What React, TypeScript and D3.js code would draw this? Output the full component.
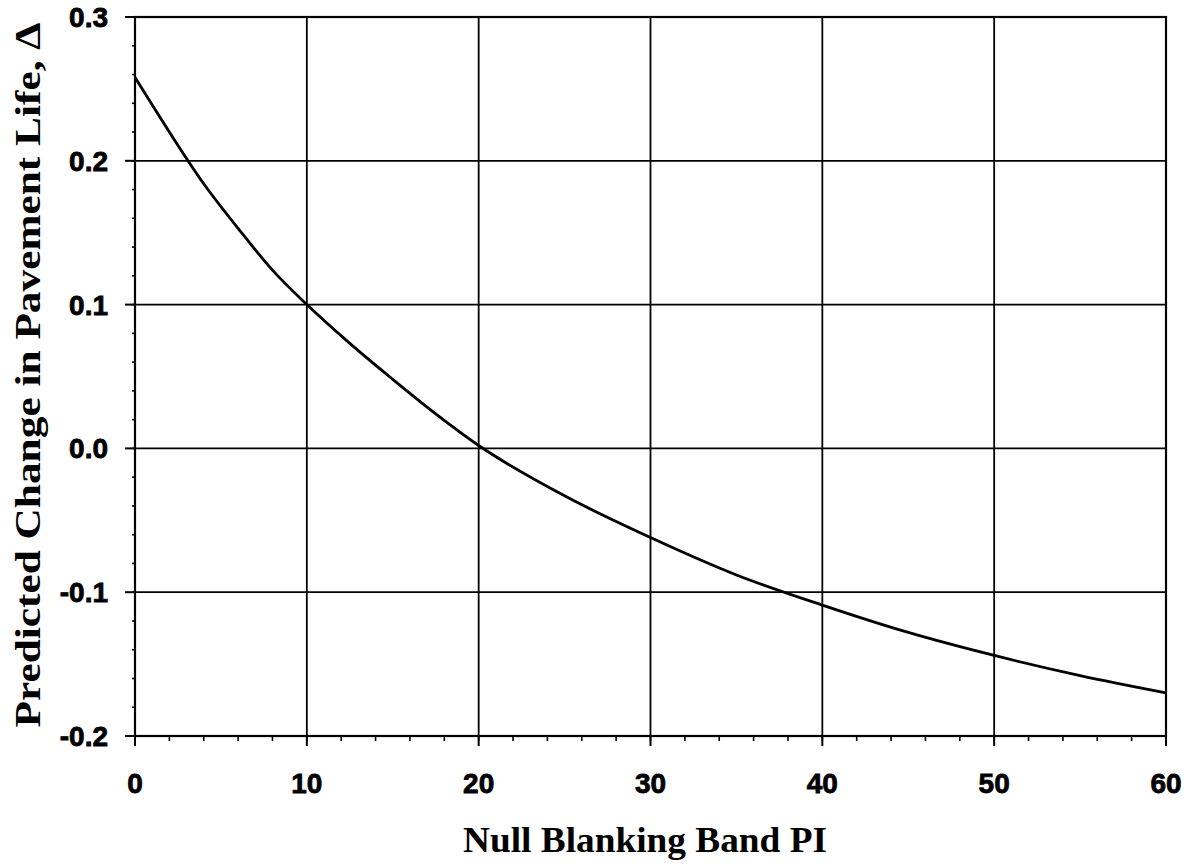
import React from "react";
import * as d3 from "d3";

// Null blanking band PI vs. predicted change in pavement life
const piValues = [0, 2, 4, 6, 8, 10, 12.5, 15, 17.5, 20, 25, 30, 35, 40, 45, 50, 55, 60];
const deltaValues = [0.258, 0.22, 0.184, 0.153, 0.124, 0.1, 0.073, 0.048, 0.024, 0.002, -0.033, -0.062, -0.088, -0.109, -0.128, -0.144, -0.158, -0.17];

const xTicks = [0, 10, 20, 30, 40, 50, 60];
const yTicks = [-0.2, -0.1, 0.0, 0.1, 0.2, 0.3];
const xMinorTicks = d3.range(0, 60.001, 2);
const yMinorTicks = d3.range(-0.2, 0.3001, 0.02);

const xTitle = "Null Blanking Band PI";
const yTitle = "Predicted Change in Pavement Life, \u0394";

const W = 1199;
const H = 865;
const left = 135;
const right = 1166;
const top = 17;
const bottom = 736;

export default function App() {
  const x = d3.scaleLinear().domain([0, 60]).range([left, right]);
  const y = d3.scaleLinear().domain([-0.2, 0.3]).range([bottom, top]);

  const line = d3
    .line<number>()
    .x((_, i) => x(piValues[i]))
    .y((d) => y(d))
    .curve(d3.curveMonotoneX);

  const tickFont = "'Liberation Sans', Arial, sans-serif";
  const titleFont = "'Liberation Serif', 'Times New Roman', serif";

  return (
    <svg
      width={W}
      height={H}
      style={{ position: "absolute", left: 0, top: 0, background: "#fff" }}
    >
      {/* grid */}
      {xTicks.map((t) => (
        <line key={"gx" + t} x1={x(t)} x2={x(t)} y1={top} y2={bottom} stroke="#000" strokeWidth={1.8} />
      ))}
      {yTicks.map((t) => (
        <line key={"gy" + t} x1={left} x2={right} y1={y(t)} y2={y(t)} stroke="#000" strokeWidth={1.8} />
      ))}

      {/* minor ticks */}
      {xMinorTicks.map((t) => (
        <line key={"mx" + t} x1={x(t)} x2={x(t)} y1={bottom} y2={bottom + 5} stroke="#000" strokeWidth={1.6} />
      ))}
      {yMinorTicks.map((t) => (
        <line key={"my" + t} x1={left - 3} x2={left} y1={y(t)} y2={y(t)} stroke="#000" strokeWidth={1.6} />
      ))}

      {/* major ticks */}
      {xTicks.map((t) => (
        <line key={"tx" + t} x1={x(t)} x2={x(t)} y1={bottom} y2={bottom + 10} stroke="#000" strokeWidth={2} />
      ))}
      {yTicks.map((t) => (
        <line key={"ty" + t} x1={left - 10} x2={left} y1={y(t)} y2={y(t)} stroke="#000" strokeWidth={2} />
      ))}

      {/* frame */}
      <rect x={left} y={top} width={right - left} height={bottom - top} fill="none" stroke="#000" strokeWidth={2.2} />

      {/* curve */}
      <path d={line(deltaValues) ?? ""} fill="none" stroke="#000" strokeWidth={2.8} />

      {/* tick labels */}
      {xTicks.map((t) => (
        <text
          key={"lx" + t}
          x={x(t)}
          y={793}
          textAnchor="middle"
          fontFamily={tickFont}
          fontWeight="bold"
          fontSize={28}
          fill="#000"
          stroke="#000"
          strokeWidth={0.8}
        >
          {d3.format("d")(t)}
        </text>
      ))}
      {yTicks.map((t) => (
        <text
          key={"ly" + t}
          x={108}
          y={y(t) + 10}
          textAnchor="end"
          fontFamily={tickFont}
          fontWeight="bold"
          fontSize={28}
          fill="#000"
          stroke="#000"
          strokeWidth={0.8}
        >
          {d3.format(".1f")(t).replace("\u2212", "-")}
        </text>
      ))}

      {/* axis titles */}
      <text
        x={645}
        y={852}
        textAnchor="middle"
        fontFamily={titleFont}
        fontWeight="bold"
        fontSize={36}
        textLength={364}
        lengthAdjust="spacingAndGlyphs"
        fill="#000"
      >
        {xTitle}
      </text>
      <text
        transform={`translate(40,${375}) rotate(-90)`}
        textAnchor="middle"
        fontFamily={titleFont}
        fontWeight="bold"
        fontSize={36}
        textLength={705}
        lengthAdjust="spacingAndGlyphs"
        fill="#000"
      >
        {yTitle}
      </text>
    </svg>
  );
}
